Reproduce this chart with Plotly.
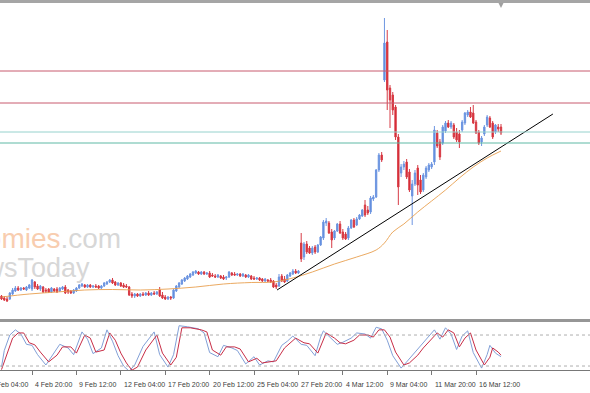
import plotly.graph_objects as go

# ---------------- data (price units are arbitrary) ----------------
opens = [24,22,21,21,26,29,32,30,32,30,32,31,38,34,31,33,30,31,28,31,
         31,29,31,33,30,29,27,29,32,34,35,33,35,33,34,34,32,34,36,38,
         40,38,35,37,35,34,33,26,24,26,24,26,25,27,25,27,26,30,25,23,
         21,23,22,29,33,36,39,41,43,45,47,48,46,48,46,47,45,44,43,44,
         43,42,43,47,46,45,46,44,45,43,44,42,41,42,41,39,40,40,39,35,
         34,44,41,39,44,46,49,47,77,63,76,72,67,73,68,75,82,97,97,88,
         82,89,96,88,86,82,92,100,95,101,104,115,110,108,121,123,150,165,240,278,
         232,225,213,183,147,153,158,148,124,136,152,140,130,143,150,153,158,187,178,177,
         189,197,193,195,188,186,190,197,205,208,207,198,188,178,186,195,202,197,188,193,
         193]
highs = [25,24,23,28,32,34,34,33,33,34,36,41,39,36,35,34,32,32,33,32,
         33,33,34,35,31,30,31,33,36,37,36,36,36,35,36,35,35,38,39,41,
         42,39,38,38,37,36,34,28,27,27,27,28,28,29,28,29,29,33,28,25,
         24,24,31,35,38,41,43,45,47,49,50,49,49,49,48,49,47,46,46,45,
         45,44,49,48,48,47,47,47,46,46,45,44,43,43,42,42,41,42,40,37,
         46,46,44,46,48,51,51,50,87,78,79,74,74,75,76,84,100,102,99,91,
         90,97,99,91,88,94,101,102,103,106,111,120,114,124,125,151,167,168,302,290,
         235,228,215,186,156,159,161,151,140,150,155,145,147,154,157,158,194,190,181,195,
         199,200,199,197,192,190,200,208,210,213,215,200,190,184,195,205,204,199,196,196,
         196]
lows = [20,19,18,20,25,28,29,29,30,29,31,29,31,30,29,27,27,27,27,28,
        27,28,30,26,26,26,26,28,31,33,32,32,32,32,32,31,31,33,35,37,
        36,34,34,33,32,32,24,22,22,23,23,24,24,24,24,25,25,23,21,20,
        20,20,21,28,32,35,38,40,42,44,46,45,45,45,45,42,43,42,42,41,
        40,40,42,44,44,44,43,43,42,42,40,40,40,39,38,38,38,37,32,31,
        33,38,37,38,43,45,46,46,58,60,66,66,65,66,67,74,80,94,86,72,
        80,88,86,80,80,80,91,92,94,100,103,103,105,106,119,122,148,158,238,210,
        192,205,180,115,143,150,141,128,95,134,125,126,128,141,148,151,155,172,160,175,
        187,192,191,181,178,172,188,195,203,202,196,186,175,174,184,193,192,181,186,188,
        185]
closes = [21,20,19,27,30,32,30,32,31,33,35,40,33,31,34,28,29,28,32,29,
          28,32,33,27,28,27,30,32,35,36,33,35,33,34,33,32,34,37,38,40,
          37,35,37,34,33,33,25,24,26,24,26,25,27,25,27,26,28,24,22,21,
          23,22,30,34,37,40,42,44,46,48,49,46,48,46,47,43,44,43,45,42,
          41,43,48,45,45,46,44,46,43,45,41,41,42,40,39,41,39,38,33,33,
          43,39,38,45,47,49,47,49,61,76,68,67,72,68,75,83,98,99,87,80,
          89,96,87,82,81,92,100,93,101,105,110,105,107,122,123,150,165,160,277,230,
          220,210,183,133,153,156,143,130,136,147,135,128,145,152,155,156,190,174,163,193,
          197,193,197,183,180,178,198,207,208,203,197,187,177,182,193,203,193,183,195,191,
          187]

# moving average read at sample bars
ma_bars = [0, 10, 20, 30, 40, 50, 60, 70, 80, 90, 98, 105, 112, 120, 128, 135, 138, 141,
           145, 150, 155, 160, 165, 170, 175, 180]
ma_vals = [23, 26, 28, 30, 30.5, 30, 31, 33, 36, 37.5, 38, 42, 48, 56, 63, 70, 77, 88,
           96, 108, 119, 130, 142, 153, 162, 169]

# trend line and horizontal levels
trend_bars = [99.3, 198.7]
trend_vals = [30, 206]
levels_red = [249, 217]
levels_teal = [188, 177]

# stochastic oscillator
stoch_d_bars = [0,2,4,6,8,10,12,14,17,20,22,25,27,30,32,34,37,39,41,43,45,47,49,52,56,58,61,63,65,68,
                72,74,76,79,81,84,86,89,92,94,97,99,102,104,106,109,111,114,116,117,120,122,124,127,129,
                132,134,136,138,140,142,145,147,150,152,154,157,159,161,163,165,167,169,171,174,176,177,179,180]
stoch_d = [13,45,74,84,84,65,61,47,28,41,57,57,45,80,74,47,51,84,70,45,26,12,18,51,80,45,22,37,94,94,
           90,86,51,41,57,57,53,28,35,26,28,30,55,65,74,65,63,45,70,84,74,65,63,70,80,
           80,76,90,90,76,47,22,26,41,55,66,84,76,90,84,57,74,84,51,22,37,55,47,41]
stoch_k_bars = [0,1,3,5,7,9,11,13,16,19,21,24,26,29,31,33,36,38,40,42,44,46,48,51,55,57,60,62,64,67,
                71,73,75,78,80,83,85,88,91,93,96,98,101,103,105,108,110,113,115,116,119,121,123,126,128,
                131,133,135,137,139,141,144,146,149,151,153,156,158,160,162,164,166,168,170,173,175,176,178,180]
stoch_k = [18,50,80,90,82,62,60,42,22,45,62,55,42,86,72,44,55,90,68,40,20,10,22,58,86,42,18,42,98,96,
           92,84,46,38,60,55,50,24,38,22,30,28,60,68,78,62,60,40,76,88,72,62,66,74,84,
           82,74,95,92,70,40,16,28,46,58,70,90,72,94,82,52,78,88,46,16,42,60,45,38]
stoch_levels = [80, 20]

tick_bars = [-5, 11, 27, 43, 59, 75, 91, 107, 123, 139, 155, 171]
tick_labels = ["2 Feb 04:00", "4 Feb 20:00", "9 Feb 12:00", "12 Feb 04:00", "17 Feb 20:00",
               "20 Feb 12:00", "25 Feb 04:00", "27 Feb 20:00", "4 Mar 12:00", "9 Mar 04:00",
               "11 Mar 20:00", "16 Mar 12:00"]

# ---------------- figure ----------------
W, H = 590, 393
def py(p):
    return 1 - p / H

xr = [-0.54, 212.07]
def bar_to_paper(b):
    return (b - xr[0]) / (xr[1] - xr[0])

bars = list(range(len(closes)))
fig = go.Figure()

fig.add_trace(go.Candlestick(
    x=bars, open=opens, high=highs, low=lows, close=closes,
    increasing=dict(line=dict(color="rgb(110,150,225)", width=1), fillcolor="rgb(90,135,220)"),
    decreasing=dict(line=dict(color="rgb(215,60,70)", width=1), fillcolor="rgb(215,30,40)"),
    whiskerwidth=0, showlegend=False, hoverinfo="skip", xaxis="x", yaxis="y"))

fig.add_trace(go.Scatter(x=ma_bars, y=ma_vals, mode="lines", line=dict(color="rgba(232,160,80,0.9)", width=1, shape="spline"),
                         showlegend=False, hoverinfo="skip", xaxis="x", yaxis="y"))
fig.add_trace(go.Scatter(x=trend_bars, y=trend_vals, mode="lines", line=dict(color="black", width=1),
                         showlegend=False, hoverinfo="skip", xaxis="x", yaxis="y"))

fig.add_trace(go.Scatter(x=stoch_k_bars, y=stoch_k, mode="lines", line=dict(color="rgb(130,160,215)", width=1),
                         showlegend=False, hoverinfo="skip", xaxis="x2", yaxis="y2"))
fig.add_trace(go.Scatter(x=stoch_d_bars, y=stoch_d, mode="lines", line=dict(color="rgb(200,45,70)", width=1),
                         showlegend=False, hoverinfo="skip", xaxis="x2", yaxis="y2"))

shapes = []
for v in levels_red:
    shapes.append(dict(type="line", xref="paper", x0=0, x1=1, yref="y", y0=v, y1=v,
                       line=dict(color="rgb(200,90,110)", width=1)))
teal_cols = ["rgb(150,210,205)", "rgb(95,185,165)"]
for v, c in zip(levels_teal, teal_cols):
    shapes.append(dict(type="line", xref="paper", x0=0, x1=1, yref="y", y0=v, y1=v,
                       line=dict(color=c, width=1)))
for v in stoch_levels:
    shapes.append(dict(type="line", xref="paper", x0=0, x1=1, yref="y2", y0=v, y1=v,
                       line=dict(color="rgb(175,175,175)", width=1, dash="dot")))
# frame lines (top border, separator between panels)
shapes.append(dict(type="rect", xref="paper", yref="paper", x0=0, x1=1, y0=py(3), y1=py(0),
                   fillcolor="rgb(165,165,165)", line=dict(width=0)))
shapes.append(dict(type="rect", xref="paper", yref="paper", x0=0, x1=1, y0=py(322), y1=py(319),
                   fillcolor="rgb(150,150,150)", line=dict(width=0)))
# chart-shift marker
shapes.append(dict(type="path", xref="x", yref="paper",
                   path=f"M {len(closes)-1.9},{py(3)} L {len(closes)-0.1},{py(3)} L {len(closes)-1},{py(8)} Z",
                   fillcolor="rgb(160,160,160)", line=dict(width=0)))

annotations = []
for b, t in zip(tick_bars, tick_labels):
    annotations.append(dict(x=bar_to_paper(b), xref="paper", y=py(384), yref="paper", text=t, showarrow=False,
                            xanchor="left", yanchor="middle", xshift=1,
                            font=dict(family="Liberation Sans", size=7, color="rgb(60,60,60)")))
# watermark
annotations.append(dict(x=123 / W, xref="paper", y=py(238), yref="paper", showarrow=False,
                        xanchor="right", yanchor="middle",
                        text="<span style='color:rgb(248,205,175)'>Economies</span><span style='color:rgb(215,215,215)'>.com</span>",
                        font=dict(family="Liberation Sans", size=28)))
annotations.append(dict(x=92 / W, xref="paper", y=py(268), yref="paper", showarrow=False,
                        xanchor="right", yanchor="middle", text="NewsToday",
                        font=dict(family="Liberation Sans", size=27, color="rgb(215,215,215)")))

fig.update_layout(
    width=W, height=H, margin=dict(l=0, r=0, t=0, b=0),
    paper_bgcolor="white", plot_bgcolor="white",
    xaxis=dict(domain=[0, 1], range=xr, visible=False, rangeslider=dict(visible=False), anchor="y"),
    yaxis=dict(domain=[py(318), py(3)], range=[2, 317], visible=False, anchor="x"),
    xaxis2=dict(domain=[0, 1], range=xr, anchor="y2", matches="x", showgrid=False, zeroline=False,
                showline=True, linecolor="rgb(120,120,120)", linewidth=1,
                tickmode="array", tickvals=tick_bars, ticktext=[""] * len(tick_bars),
                ticks="outside", ticklen=4, tickcolor="rgb(120,120,120)", showticklabels=False),
    yaxis2=dict(domain=[py(370), py(322)], range=[12.3, 105.2], visible=False, anchor="x2"),
    shapes=shapes, annotations=annotations,
)

fig.write_html("out.html", config={"displayModeBar": False},
               post_script="document.body.style.margin='0';document.body.style.overflow='hidden';")
